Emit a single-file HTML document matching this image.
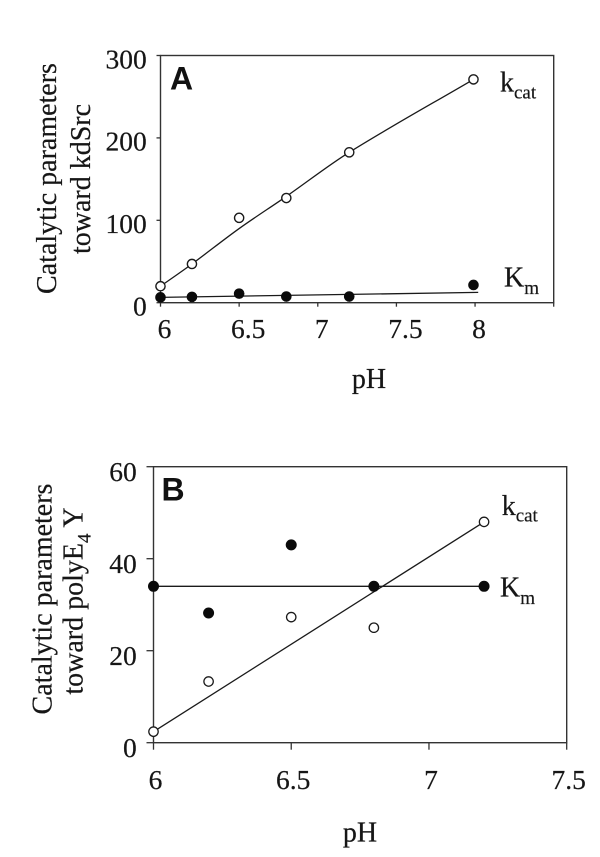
<!DOCTYPE html>
<html lang="en">
<head>
<meta charset="utf-8">
<title>Catalytic parameters versus pH</title>
<style>
html,body{margin:0;padding:0;background:#fff;}
svg{display:block;}
text{font-family:"Liberation Serif",serif;fill:#161616;stroke:#161616;stroke-width:0.2px;}
.tick{font-size:27.5px;}
.title{font-size:28px;}
.panel{font-family:"Liberation Sans",sans-serif;font-weight:bold;font-size:32px;fill:#111;stroke:none;}
.sub{font-size:19px;}
</style>
</head>
<body>
<svg id="chart" xmlns="http://www.w3.org/2000/svg" width="600" height="857" viewBox="0 0 600 857">
  <g id="panel-a">
    <text class="title" transform="translate(56,178.5) rotate(-90)" text-anchor="middle">Catalytic parameters</text>
    <text class="title" transform="translate(90,179) rotate(-90)" text-anchor="middle">toward kdSrc</text>
    <text class="title" x="369" y="388" text-anchor="middle">pH</text>
    <text class="panel" x="170" y="89.5">A</text>
    <text x="500" y="91.7" class="title">k<tspan class="sub" dy="6.6">cat</tspan></text>
    <text x="504" y="286.7" class="title">K<tspan class="sub" dy="7.3">m</tspan></text>
  </g>
  <g id="panel-b">
    <text class="title" transform="translate(51.7,599) rotate(-90)" text-anchor="middle">Catalytic parameters</text>
    <text class="title" transform="translate(82.7,601) rotate(-90)" text-anchor="middle">toward polyE<tspan class="sub" dy="8">4</tspan><tspan dy="-8"> Y</tspan></text>
    <text class="title" x="360" y="841.7" text-anchor="middle">pH</text>
    <text class="panel" x="161.5" y="500.7">B</text>
    <text x="501.7" y="515" class="title">k<tspan class="sub" dy="6.7">cat</tspan></text>
    <text x="500" y="596.7" class="title">K<tspan class="sub" dy="7.3">m</tspan></text>
  </g>
</svg>
<script>
// Panel A data
const aPh = [6, 6.2, 6.5, 6.8, 7.2, 7.99];
const aKcat = [20, 47, 103, 127, 182.5, 271];
const aKm = [6.5, 7, 11, 7.5, 7.5, 21.5];
const aKcatFitPh = [6, 6.2, 6.5, 6.8, 7.2, 7.99];
const aKcatFit = [20, 47, 90, 129, 182.5, 271];
const aKmFitPh = [6, 8.02];
const aKmFit = [6.5, 12.5];
const aXTicks = [6, 6.5, 7, 7.5, 8, 8.5];
const aXLabels = ["6", "6.5", "7", "7.5", "8", ""];
const aYTicks = [0, 100, 200, 300];
const aYLabels = ["0", "100", "200", "300"];

// Panel B data
const bPh = [6, 6.2, 6.5, 6.8, 7.2];
const bKcat = [2.4, 13.3, 27.3, 25, 48];
const bKm = [34, 28.2, 43, 34, 34];
const bKcatFitPh = [6, 7.2];
const bKcatFit = [2.4, 48];
const bKmFitPh = [6, 7.2];
const bKmFit = [34, 34];
const bXTicks = [6, 6.5, 7, 7.5];
const bXLabels = ["6", "6.5", "7", "7.5"];
const bYTicks = [0, 20, 40, 60];
const bYLabels = ["0", "20", "40", "60"];

const NS = "http://www.w3.org/2000/svg";

function scale(d0, d1, r0, r1) {
  return function (v) { return r0 + (v - d0) * (r1 - r0) / (d1 - d0); };
}
function make(tag, attrs, parent) {
  const el = document.createElementNS(NS, tag);
  for (const k in attrs) el.setAttribute(k, attrs[k]);
  parent.appendChild(el);
  return el;
}
function smoothPath(xs, ys, X, Y) {
  const p = xs.map(function (x, i) { return [X(x), Y(ys[i])]; });
  let d = "M" + p[0][0] + " " + p[0][1];
  if (p.length === 2) return d + "L" + p[1][0] + " " + p[1][1];
  const n = p.length;
  const m = p.map(function (pt, i) {
    const a = p[Math.max(i - 1, 0)], c = p[Math.min(i + 1, n - 1)];
    return (c[1] - a[1]) / (c[0] - a[0]);
  });
  for (let i = 0; i < n - 1; i++) {
    const h = (p[i + 1][0] - p[i][0]) / 3;
    d += "C" + (p[i][0] + h) + " " + (p[i][1] + m[i] * h) + " " +
         (p[i + 1][0] - h) + " " + (p[i + 1][1] - m[i + 1] * h) + " " + p[i + 1][0] + " " + p[i + 1][1];
  }
  return d;
}

function drawAxes(root, o) {
  const X = o.X, Y = o.Y;
  const frame = make("rect", {x: o.left, y: o.top, width: o.right - o.left, height: o.bottom - o.top, fill: "none", stroke: "#333", "stroke-width": 1.4}, root);
  
  
  o.xTicks.forEach(function (t, i) {
    const tick = make("line", {x1: X(t), x2: X(t), y1: o.bottom, y2: o.bottom + o.tickLenX, stroke: "#333", "stroke-width": 1.3}, root);
    
    
    if (o.xLabels[i] === "") return;
    const isWhole = Number.isInteger(t);
    const label = make("text", {x: X(t) + (isWhole ? o.wholeShift : o.halfShift), y: o.xLabelY, "text-anchor": "middle", "class": "tick"}, root);
    label.textContent = o.xLabels[i];
    
    
  });
  o.yTicks.forEach(function (t, i) {
    const tick = make("line", {x1: o.left - o.tickLenY, x2: o.left, y1: Y(t), y2: Y(t), stroke: "#333", "stroke-width": 1.3}, root);
    
    
    const label = make("text", {x: o.yLabelX, y: Y(t) + o.yLabelShift, "text-anchor": "end", "class": "tick"}, root);
    label.textContent = o.yLabels[i];
    
    
  });
}

function drawSeries(root, X, Y, xs, ys, open, r, sw) {
  xs.forEach(function (x, i) {
    const dot = make("circle", {cx: X(x), cy: Y(ys[i]), r: r, fill: open ? "#fff" : "#0a0a0a", stroke: open ? "#1a1a1a" : "#0a0a0a", "stroke-width": open ? sw : 0.6}, root);
    
    
  });
}
function drawFit(root, X, Y, xs, ys, name) {
  const path = make("path", {d: smoothPath(xs, ys, X, Y), fill: "none", stroke: "#1a1a1a", "stroke-width": 1.3}, root);
  
  
}

// Panel A
const rootA = document.getElementById("panel-a");
const aX = scale(6, 8.5, 160.5, 553.7);
const aY = scale(0, 300, 302.7, 55.5);
drawAxes(rootA, {X: aX, Y: aY, left: 160.5, right: 553.7, top: 55.5, bottom: 302.7,
  xTicks: aXTicks, xLabels: aXLabels, yTicks: aYTicks, yLabels: aYLabels,
  tickLenX: 4, tickLenY: 4, xLabelY: 338, wholeShift: 4, halfShift: 9, yLabelX: 146.7, yLabelShift: 12.8});
drawFit(rootA, aX, aY, aKcatFitPh, aKcatFit, "kcat-fit-curve");
drawFit(rootA, aX, aY, aKmFitPh, aKmFit, "km-fit-line");
drawSeries(rootA, aX, aY, aPh, aKm, false, 5, 1.5);
drawSeries(rootA, aX, aY, aPh, aKcat, true, 4.6, 1.4);

// Panel B
const rootB = document.getElementById("panel-b");
const bX = scale(6, 7.5, 153.5, 566.7);
const bY = scale(0, 60, 742.7, 466.7);
drawAxes(rootB, {X: bX, Y: bY, left: 153.5, right: 566.7, top: 466.7, bottom: 742.7,
  xTicks: bXTicks, xLabels: bXLabels, yTicks: bYTicks, yLabels: bYLabels,
  tickLenX: 7, tickLenY: 7, xLabelY: 789, wholeShift: 2, halfShift: 2, yLabelX: 136.7, yLabelShift: 14.5});
drawFit(rootB, bX, bY, bKcatFitPh, bKcatFit, "kcat-fit-line");
drawFit(rootB, bX, bY, bKmFitPh, bKmFit, "km-fit-line");
drawSeries(rootB, bX, bY, bPh, bKm, false, 5.2, 1.5);
drawSeries(rootB, bX, bY, bPh, bKcat, true, 4.7, 1.3);
</script>
</body>
</html>
